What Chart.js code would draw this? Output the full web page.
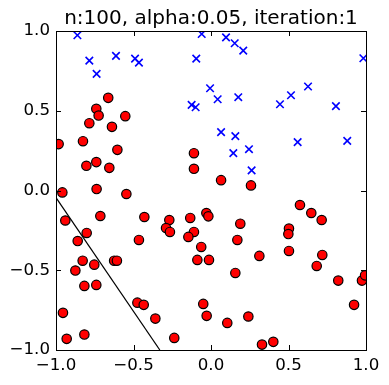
<!DOCTYPE html>
<html lang="en">
<head>
<meta charset="UTF-8">
<title>scatter iteration</title>
<script src="https://cdn.jsdelivr.net/npm/chart.js"></script>
<style>
    body { margin: 0; background: #fff; }
    canvas { display: block; }
</style>
</head>
<body>
<canvas id="grafico" width="389" height="385"></canvas>
<script>
// values
const titulo = 'n:100, alpha:0.05, iteration:1';
const tickVals = [-1, -0.5, 0, 0.5, 1];

// red class (circles)
const redX = [-0.663, -0.74, -0.725, -0.785, -0.553, -0.639, -0.983, -0.826, -0.604, -0.804, -0.74, -0.656, -0.11, -0.11,
    0.065, 0.258, -0.959, -0.738, -0.546, -0.94, -0.714, -0.802, -0.86, -0.43, -0.465, -0.269, -0.29, -0.265, -0.134, -0.11,
    -0.146, -0.03, -0.017, -0.063, -0.088, -0.013, -0.828, -0.875, -0.753, -0.625, -0.607, -0.817, -0.74, -0.955, -0.931,
    -0.817, -0.475, -0.434, -0.359, -0.237, -0.05, -0.028, 0.189, 0.17, 0.312, 0.157, 0.574, 0.647, 0.714, 0.503, 0.499,
    0.503, 0.718, 0.682, 0.821, 0.974, 0.994, 0.923, 0.105, 0.241, 0.329, 0.402];
const redY = [0.581, 0.512, 0.47, 0.422, 0.466, 0.399, 0.291, 0.309, 0.255, 0.155, 0.178, 0.142, 0.234, 0.136,
    0.065, 0.032, -0.012, 0.009, -0.022, -0.188, -0.16, -0.266, -0.317, -0.166, -0.31, -0.185, -0.235, -0.26, -0.172, -0.26,
    -0.291, -0.141, -0.162, -0.354, -0.435, -0.435, -0.44, -0.502, -0.465, -0.44, -0.44, -0.598, -0.592, -0.767, -0.93,
    -0.903, -0.703, -0.717, -0.803, -0.924, -0.711, -0.786, -0.208, -0.31, -0.41, -0.517, -0.091, -0.141, -0.185, -0.239, -0.273,
    -0.379, -0.404, -0.473, -0.565, -0.565, -0.532, -0.717, -0.83, -0.79, -0.966, -0.949];

// blue class (x markers)
const blueX = [-0.862, -0.785, -0.738, -0.613, -0.49, -0.465, -0.06, -0.095, -0.125, -0.099, 0.097, 0.153, 0.208, 0.983,
    -0.006, 0.043, 0.176, 0.445, 0.516, 0.626, 0.806, 0.065, 0.157, 0.144, 0.245, 0.559, 0.879, 0.262];
const blueY = [0.973, 0.814, 0.731, 0.844, 0.827, 0.802, 0.981, 0.827, 0.537, 0.522, 0.96, 0.923, 0.877, 0.829,
    0.641, 0.572, 0.585, 0.541, 0.597, 0.652, 0.529, 0.366, 0.341, 0.234, 0.259, 0.303, 0.311, 0.126];

// separating line
const lineX = [-1, -0.33];
const lineY = [-0.045, -1];

function pares(xs, ys) {
    return xs.map((x, i) => ({ x: x, y: ys[i] }));
}

function rotulo(v) {
    return v.toFixed(1).replace('-', '\u2212');
}

// inward ticks on all four sides + frame, like the old matplotlib style
const moldura = {
    id: 'moldura',
    afterDraw(chart) {
        const ctx = chart.ctx;
        const a = chart.chartArea;
        const sx = chart.scales.x, sy = chart.scales.y;
        const tam = 5;
        ctx.save();
        ctx.strokeStyle = '#000';
        ctx.lineWidth = 1;
        ctx.beginPath();
        tickVals.forEach(v => {
            const px = Math.round(sx.getPixelForValue(v)) + 0.5;
            ctx.moveTo(px, a.bottom); ctx.lineTo(px, a.bottom - tam);
            ctx.moveTo(px, a.top); ctx.lineTo(px, a.top + tam);
            const py = Math.round(sy.getPixelForValue(v)) + 0.5;
            ctx.moveTo(a.left, py); ctx.lineTo(a.left + tam, py);
            ctx.moveTo(a.right, py); ctx.lineTo(a.right - tam, py);
        });
        ctx.stroke();
        ctx.strokeRect(Math.round(a.left) + 0.5, Math.round(a.top) + 0.5,
            Math.round(a.right - a.left), Math.round(a.bottom - a.top));
        ctx.restore();
    }
};

const fonte = { family: 'DejaVu Sans', size: 16.67 };

const eixo = {
    type: 'linear',
    min: -1,
    max: 1,
    grid: { display: false, drawTicks: false },
    border: { display: false },
    afterBuildTicks: (scale) => { scale.ticks = tickVals.map(v => ({ value: v })); },
    ticks: { color: '#000', font: fonte, padding: 6, callback: (v) => rotulo(v) }
};

new Chart(document.getElementById('grafico'), {
    type: 'scatter',
    data: {
        datasets: [
            {
                label: 'linha',
                data: pares(lineX, lineY),
                showLine: true,
                borderColor: '#000',
                borderWidth: 1.2,
                pointRadius: 0,
                clip: 0
            },
            {
                label: 'vermelho',
                data: pares(redX, redY),
                pointStyle: 'circle',
                pointRadius: 4.7,
                backgroundColor: '#ff0000',
                borderColor: '#000',
                borderWidth: 1.2,
                clip: 0
            },
            {
                label: 'azul',
                data: pares(blueX, blueY),
                pointStyle: 'crossRot',
                pointRadius: 5.3,
                borderColor: '#0000ff',
                borderWidth: 1.6,
                clip: 0
            }
        ]
    },
    options: {
        responsive: false,
        animation: false,
        layout: { padding: { left: 0, right: 23, top: 0, bottom: 0 } },
        plugins: {
            legend: { display: false },
            tooltip: { enabled: false },
            title: {
                display: true,
                text: titulo,
                fullSize: false,
                color: '#000',
                font: { family: 'DejaVu Sans', size: 20, weight: 'normal' },
                padding: { top: 6.5, bottom: 0.5 }
            }
        },
        scales: {
            x: Object.assign({}, eixo, {
                position: 'bottom',
                afterFit: (scale) => { scale.height = 35; }
            }),
            y: Object.assign({}, eixo, {
                position: 'left',
                afterFit: (scale) => { scale.width = 56; }
            })
        }
    },
    plugins: [moldura]
});
</script>
</body>
</html>
